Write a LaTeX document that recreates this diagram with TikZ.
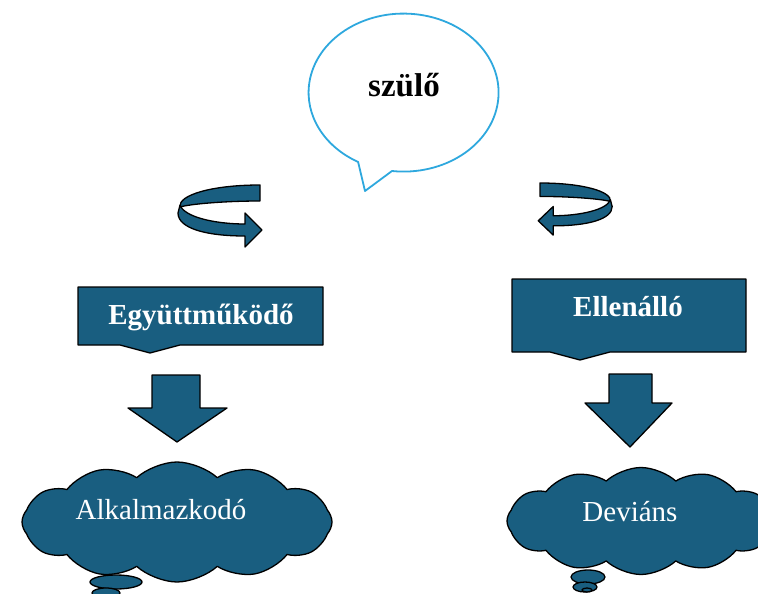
\documentclass[tikz,border=0pt]{standalone}
\usepackage{fontspec}
\setmainfont{Liberation Serif}
\usetikzlibrary{shapes.geometric,shapes.symbols}
\definecolor{petrol}{RGB}{25,94,128}
\definecolor{bubbleblue}{RGB}{46,168,222}
\tikzset{
  darkshape/.style={fill=petrol,draw=black,line width=1.3pt,line join=round},
  boxlabel/.style={text=white,font=\fontsize{29}{34}\selectfont\bfseries},
  cloudlabel/.style={text=white,font=\fontsize{29}{34}\selectfont},
  thought/.style={cloud,cloud puffs=12,cloud puff arc=85,darkshape,inner sep=0pt},
}
% twisted ribbon arrow, drawn at the origin
\newcommand\turnarrow{%
  \path[darkshape] (0,0) .. controls (-48,0) and (-82,10) .. (-80,22)
     .. controls (-70,19) and (-35,16) .. (0,16) -- cycle;
  \path[darkshape] (-80,20) .. controls (-76,32) and (-45,39) .. (-15,39)
     -- (-15,28) -- (2,45) -- (-15,62) -- (-15,51)
     .. controls (-55,51) and (-82,43) .. (-82,28) -- cycle;}
\begin{document}
\begin{tikzpicture}[x=1pt,y=-1pt]
  \useasboundingbox (0,0) rectangle (758,594);
  \clip (0,0) rectangle (758,594);

  % speech bubble
  \draw[bubbleblue,line width=1.8pt,line join=round,fill=white]
    (392,171) arc[start angle=97,end angle=-241.4,x radius=95,y radius=79]
    -- (365,191) -- cycle;
  \node (parent) at (404,85) {\fontsize{33}{40}\selectfont\bfseries szülő};

  % ribbon arrows
  \begin{scope}[shift={(260,185)}]
    \turnarrow
  \end{scope}
  \begin{scope}[shift={(540,183)},xscale=-0.88,yscale=0.84]
    \turnarrow
  \end{scope}

  % callout boxes
  \path[darkshape] (78,287) -- (323,287) -- (323,345) -- (180,345)
    -- (150,353) -- (120,345) -- (78,345) -- cycle;
  \node[boxlabel] (coop) at (201,317) {Együttműködő};
  \path[darkshape] (512,279) -- (746,279) -- (746,352) -- (610,352)
    -- (580,360) -- (550,352) -- (512,352) -- cycle;
  \node[boxlabel] (resist) at (628,307) {Ellenálló};

  % block arrows
  \path[darkshape] (152,375) -- (200,375) -- (200,408) -- (227,408)
    -- (177,442) -- (128,408) -- (152,408) -- cycle;
  \path[darkshape] (609,374) -- (652,374) -- (652,403) -- (672,403)
    -- (630,447) -- (585,403) -- (609,403) -- cycle;

  % clouds
  \node[thought,aspect=2.58,minimum width=310,minimum height=120] (adaptcloud) at (177,522) {};
  \path[darkshape] (116,582) ellipse [x radius=26,y radius=7];
  \path[darkshape] (106,593) ellipse [x radius=14,y radius=5];
  \node[cloudlabel] (adapt) at (161,510) {Alkalmazkodó};

  \node[thought,aspect=2.5,minimum width=268,minimum height=107] (deviantcloud) at (641,521) {};
  \path[darkshape] (588,577) ellipse [x radius=17,y radius=7];
  \path[darkshape] (585,587) ellipse [x radius=12,y radius=5];
  \path[darkshape] (587,590) ellipse [x radius=5,y radius=2];
  \node[cloudlabel] (deviant) at (630,512) {Deviáns};
\end{tikzpicture}
\end{document}
